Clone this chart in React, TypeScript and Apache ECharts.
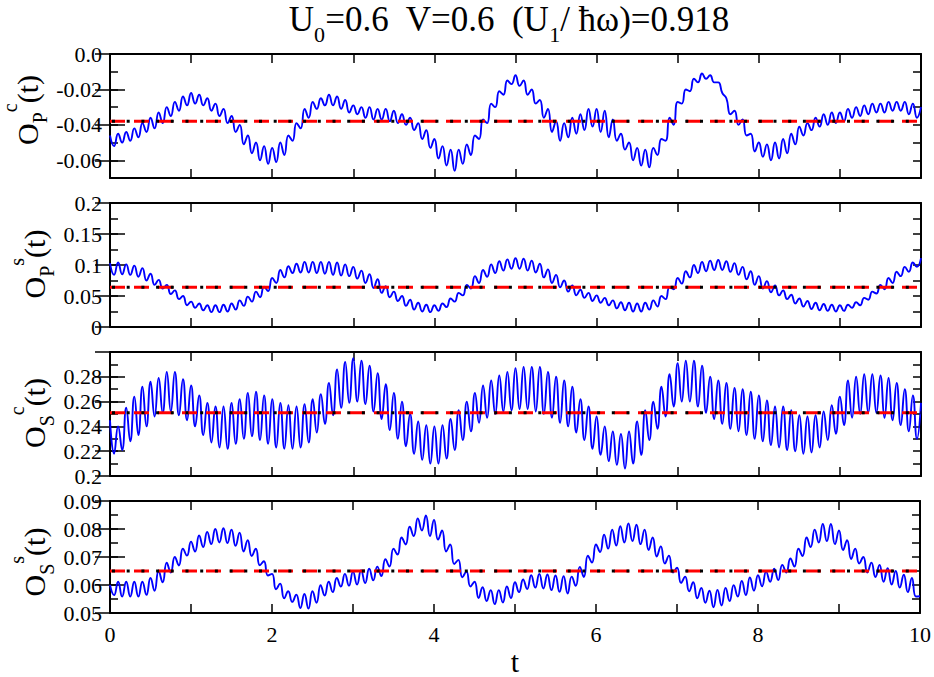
import React, { useEffect, useRef } from 'react';
import * as echarts from 'echarts';

const SERIF = 'Liberation Serif';

// time axis
const timeMin = 0;
const timeMax = 10;
const timeTickStep = 1;
const timeLabels = [0, 2, 4, 6, 8, 10];
const peakSpacing = 0.1; // local maxima every 0.1, minima half-way between

// O_P^c(t): local maxima (t = 0, 0.1, ..., 10) and minima (t = 0.05, 0.15, ..., 9.95)
const opcPeaks = [
  -0.046, -0.045, -0.044, -0.042, -0.039, -0.036, -0.033, -0.030, -0.027, -0.024,
  -0.022, -0.023, -0.025, -0.028, -0.031, -0.035, -0.040, -0.046, -0.050, -0.052,
  -0.053, -0.050, -0.046, -0.039, -0.031, -0.027, -0.025, -0.023, -0.024, -0.026,
  -0.029, -0.030, -0.030, -0.031, -0.031, -0.032, -0.034, -0.036, -0.039, -0.043,
  -0.048, -0.052, -0.054, -0.054, -0.051, -0.046, -0.037, -0.028, -0.021, -0.015,
  -0.012, -0.015, -0.020, -0.026, -0.031, -0.038, -0.039, -0.036, -0.034, -0.031,
  -0.031, -0.032, -0.037, -0.045, -0.050, -0.053, -0.054, -0.053, -0.048, -0.036,
  -0.027, -0.020, -0.014, -0.011, -0.012, -0.016, -0.025, -0.032, -0.037, -0.045,
  -0.050, -0.051, -0.050, -0.048, -0.045, -0.041, -0.039, -0.036, -0.034, -0.033,
  -0.033, -0.031, -0.030, -0.029, -0.028, -0.028, -0.027, -0.027, -0.027, -0.028,
  -0.030,
];
const opcTroughs = [
  -0.052, -0.050, -0.049, -0.047, -0.044, -0.042, -0.039, -0.035, -0.032, -0.029,
  -0.028, -0.029, -0.032, -0.035, -0.039, -0.044, -0.051, -0.056, -0.060, -0.062,
  -0.061, -0.057, -0.049, -0.042, -0.036, -0.031, -0.029, -0.029, -0.031, -0.033,
  -0.034, -0.036, -0.037, -0.037, -0.038, -0.039, -0.040, -0.043, -0.048, -0.053,
  -0.059, -0.063, -0.066, -0.062, -0.057, -0.048, -0.039, -0.030, -0.023, -0.017,
  -0.018, -0.023, -0.028, -0.036, -0.044, -0.049, -0.047, -0.045, -0.043, -0.041,
  -0.044, -0.047, -0.049, -0.054, -0.060, -0.063, -0.064, -0.057, -0.049, -0.040,
  -0.028, -0.021, -0.016, -0.014, -0.016, -0.022, -0.034, -0.040, -0.046, -0.055,
  -0.058, -0.060, -0.059, -0.056, -0.051, -0.046, -0.043, -0.041, -0.040, -0.039,
  -0.038, -0.036, -0.035, -0.034, -0.033, -0.033, -0.032, -0.032, -0.034, -0.036,
];

// O_P^s(t)
const opsPeaks = [
  0.103, 0.104, 0.101, 0.099, 0.095, 0.086, 0.076, 0.068, 0.059, 0.050,
  0.041, 0.038, 0.035, 0.035, 0.036, 0.038, 0.043, 0.049, 0.057, 0.065,
  0.079, 0.092, 0.098, 0.102, 0.105, 0.105, 0.105, 0.105, 0.104, 0.101,
  0.097, 0.091, 0.085, 0.077, 0.066, 0.057, 0.050, 0.044, 0.039, 0.036,
  0.035, 0.038, 0.046, 0.055, 0.068, 0.082, 0.092, 0.101, 0.106, 0.109,
  0.111, 0.110, 0.107, 0.102, 0.093, 0.084, 0.075, 0.067, 0.060, 0.055,
  0.051, 0.047, 0.043, 0.040, 0.039, 0.038, 0.039, 0.043, 0.050, 0.064,
  0.079, 0.090, 0.100, 0.105, 0.107, 0.108, 0.106, 0.103, 0.097, 0.090,
  0.082, 0.074, 0.067, 0.059, 0.052, 0.046, 0.042, 0.039, 0.037, 0.036,
  0.035, 0.036, 0.040, 0.047, 0.057, 0.068, 0.079, 0.089, 0.097, 0.104,
  0.111,
];
const opsTroughs = [
  0.084, 0.085, 0.084, 0.081, 0.075, 0.068, 0.062, 0.053, 0.045, 0.035,
  0.031, 0.027, 0.024, 0.024, 0.025, 0.028, 0.034, 0.041, 0.048, 0.058,
  0.071, 0.080, 0.087, 0.088, 0.088, 0.087, 0.086, 0.084, 0.083, 0.082,
  0.078, 0.071, 0.063, 0.055, 0.048, 0.042, 0.034, 0.028, 0.025, 0.024,
  0.026, 0.032, 0.041, 0.051, 0.062, 0.071, 0.081, 0.087, 0.091, 0.094,
  0.094, 0.091, 0.088, 0.080, 0.071, 0.064, 0.057, 0.051, 0.047, 0.042,
  0.039, 0.035, 0.030, 0.027, 0.025, 0.025, 0.028, 0.033, 0.045, 0.061,
  0.070, 0.080, 0.087, 0.090, 0.092, 0.092, 0.089, 0.084, 0.077, 0.068,
  0.062, 0.056, 0.051, 0.045, 0.038, 0.033, 0.029, 0.027, 0.026, 0.025,
  0.026, 0.031, 0.035, 0.044, 0.054, 0.061, 0.071, 0.082, 0.089, 0.097,
];

// O_S^c(t)
const oscPeaks = [
  0.245, 0.240, 0.255, 0.264, 0.272, 0.276, 0.279, 0.284, 0.284, 0.278,
  0.273, 0.265, 0.259, 0.256, 0.256, 0.259, 0.262, 0.267, 0.268, 0.265,
  0.262, 0.259, 0.257, 0.256, 0.258, 0.262, 0.266, 0.275, 0.286, 0.292,
  0.295, 0.293, 0.289, 0.283, 0.274, 0.267, 0.260, 0.250, 0.244, 0.241,
  0.240, 0.241, 0.246, 0.253, 0.260, 0.267, 0.273, 0.277, 0.281, 0.284,
  0.287, 0.288, 0.288, 0.288, 0.284, 0.280, 0.277, 0.272, 0.262, 0.256,
  0.248, 0.240, 0.236, 0.234, 0.236, 0.244, 0.253, 0.260, 0.272, 0.282,
  0.291, 0.293, 0.293, 0.289, 0.280, 0.277, 0.275, 0.271, 0.270, 0.268,
  0.265, 0.261, 0.256, 0.256, 0.253, 0.249, 0.248, 0.249, 0.252, 0.257,
  0.264, 0.277, 0.280, 0.282, 0.282, 0.281, 0.279, 0.275, 0.270, 0.265,
  0.259,
];
const oscTroughs = [
  0.218, 0.221, 0.228, 0.233, 0.240, 0.248, 0.251, 0.252, 0.249, 0.245,
  0.240, 0.233, 0.227, 0.223, 0.222, 0.226, 0.230, 0.232, 0.229, 0.226,
  0.223, 0.222, 0.222, 0.223, 0.227, 0.235, 0.242, 0.249, 0.255, 0.259,
  0.260, 0.258, 0.252, 0.246, 0.237, 0.230, 0.224, 0.218, 0.213, 0.210,
  0.210, 0.214, 0.221, 0.229, 0.236, 0.243, 0.247, 0.250, 0.252, 0.253,
  0.254, 0.254, 0.252, 0.250, 0.247, 0.243, 0.240, 0.235, 0.229, 0.222,
  0.217, 0.212, 0.209, 0.206, 0.210, 0.217, 0.229, 0.238, 0.248, 0.256,
  0.260, 0.260, 0.256, 0.251, 0.246, 0.242, 0.238, 0.236, 0.233, 0.230,
  0.228, 0.225, 0.223, 0.221, 0.220, 0.218, 0.219, 0.223, 0.229, 0.234,
  0.241, 0.247, 0.250, 0.251, 0.251, 0.247, 0.245, 0.241, 0.236, 0.230,
];

// O_S^s(t)
const ossPeaks = [
  0.0600, 0.0612, 0.0612, 0.0612, 0.0612, 0.0625, 0.0650, 0.0680, 0.0700, 0.0730,
  0.0755, 0.0777, 0.0790, 0.0800, 0.0803, 0.0798, 0.0787, 0.0760, 0.0730, 0.0685,
  0.0640, 0.0605, 0.0578, 0.0566, 0.0568, 0.0578, 0.0600, 0.0612, 0.0625, 0.0640,
  0.0648, 0.0653, 0.0658, 0.0666, 0.0692, 0.0730, 0.0770, 0.0808, 0.0838, 0.0848,
  0.0832, 0.0795, 0.0745, 0.0690, 0.0648, 0.0612, 0.0592, 0.0582, 0.0582, 0.0595,
  0.0610, 0.0620, 0.0635, 0.0640, 0.0638, 0.0634, 0.0632, 0.0630, 0.0665, 0.0705,
  0.0745, 0.0780, 0.0798, 0.0810, 0.0820, 0.0815, 0.0798, 0.0770, 0.0738, 0.0705,
  0.0662, 0.0630, 0.0610, 0.0590, 0.0580, 0.0583, 0.0590, 0.0600, 0.0615, 0.0627,
  0.0635, 0.0648, 0.0658, 0.0672, 0.0695, 0.0730, 0.0770, 0.0798, 0.0818, 0.0818,
  0.0795, 0.0760, 0.0730, 0.0700, 0.0680, 0.0672, 0.0660, 0.0650, 0.0637, 0.0625,
  0.0560,
];
const ossTroughs = [
  0.0564, 0.0559, 0.0559, 0.0559, 0.0565, 0.0580, 0.0610, 0.0645, 0.0670, 0.0705,
  0.0720, 0.0736, 0.0746, 0.0752, 0.0750, 0.0740, 0.0720, 0.0704, 0.0671, 0.0634,
  0.0585, 0.0553, 0.0540, 0.0518, 0.0516, 0.0537, 0.0563, 0.0575, 0.0595, 0.0598,
  0.0602, 0.0607, 0.0617, 0.0632, 0.0666, 0.0709, 0.0745, 0.0775, 0.0795, 0.0775,
  0.0762, 0.0720, 0.0675, 0.0628, 0.0595, 0.0554, 0.0543, 0.0532, 0.0538, 0.0554,
  0.0575, 0.0586, 0.0591, 0.0588, 0.0582, 0.0576, 0.0570, 0.0597, 0.0629, 0.0680,
  0.0718, 0.0730, 0.0741, 0.0752, 0.0757, 0.0746, 0.0725, 0.0702, 0.0677, 0.0645,
  0.0608, 0.0578, 0.0553, 0.0537, 0.0521, 0.0527, 0.0543, 0.0559, 0.0564, 0.0580,
  0.0596, 0.0612, 0.0618, 0.0645, 0.0666, 0.0704, 0.0736, 0.0752, 0.0757, 0.0746,
  0.0725, 0.0693, 0.0677, 0.0645, 0.0629, 0.0612, 0.0602, 0.0591, 0.0575, 0.0559,
];

// time-averaged values (dashed red / dotted black lines)
const panelMeans = [-0.038, 0.064, 0.251, 0.065];

// y axes
const panelMins = [-0.07, 0, 0.2, 0.05];
const panelMaxs = [0, 0.2, 0.3, 0.09];
const panelMinorSteps = [0.01, 0.025, 0.01, 0.005];
const panelMajorValues = [
  [-0.06, -0.04, -0.02, 0],
  [0, 0.05, 0.1, 0.15, 0.2],
  [0.2, 0.22, 0.24, 0.26, 0.28, 0.3],
  [0.05, 0.06, 0.07, 0.08, 0.09],
];
const panelLabelValues = [
  [-0.06, -0.04, -0.02, 0],
  [0, 0.05, 0.1, 0.15, 0.2],
  [0.2, 0.22, 0.24, 0.26, 0.28],
  [0.05, 0.06, 0.07, 0.08, 0.09],
];
const panelLabelTexts = [
  ['-0.06', '-0.04', '-0.02', '0.0'],
  ['0', '0.05', '0.1', '0.15', '0.2'],
  ['0.2', '0.22', '0.24', '0.26', '0.28'],
  ['0.05', '0.06', '0.07', '0.08', '0.09'],
];
const panelSubs = ['P', 'P', 'S', 'S'];
const panelSups = ['c', 's', 'c', 's'];
const panelPeaks = [opcPeaks, opsPeaks, oscPeaks, ossPeaks];
const panelTroughs = [opcTroughs, opsTroughs, oscTroughs, ossTroughs];

// layout
const panelTops = [54, 203, 352, 501];
const panelHeight = 124;
const titleX = [0, 7, 7, 7];
const titleY = [110, 264, 413, 562];

function buildCurve(peaks: number[], troughs: number[]) {
  const pts: number[][] = [];
  peaks.forEach((p, i) => {
    pts.push([+(i * peakSpacing).toFixed(3), p]);
    if (i < troughs.length) pts.push([+((i + 0.5) * peakSpacing).toFixed(3), troughs[i]]);
  });
  return pts;
}

export default function App() {
  const ref = useRef<HTMLDivElement>(null);
  useEffect(() => {
    if (!ref.current) return;
    const chart = echarts.init(ref.current, null, { renderer: 'svg' });
    const grid: any[] = [];
    const xAxis: any[] = [];
    const yAxis: any[] = [];
    const series: any[] = [];
    const graphic: any[] = [];
    const axisLine = { show: true, onZero: false, lineStyle: { color: '#000', width: 2 } };
    const labelStyle = { fontFamily: SERIF, fontSize: 22, color: '#000' };

    for (let i = 0; i < 4; i++) {
      grid.push({ left: 110, right: 13, top: panelTops[i], height: panelHeight, show: false });
      const isBottom = i === 3;
      const xBase = {
        type: 'value', gridIndex: i, min: timeMin, max: timeMax, interval: timeTickStep,
        axisLine,
        axisTick: { show: true, inside: true, length: 9, lineStyle: { color: '#000', width: 1.5 } },
        splitLine: { show: false },
      };
      xAxis.push({
        ...xBase, position: 'bottom',
        axisLabel: isBottom ? {
          show: true, margin: 10, ...labelStyle,
          formatter: (v: number) => {
            const k = Math.round(v);
            return Math.abs(v - k) < 1e-6 && timeLabels.includes(k) ? String(k) : '';
          },
        } : { show: false },
        name: isBottom ? 't' : '', nameLocation: 'middle', nameGap: 20,
        nameTextStyle: { fontFamily: SERIF, fontSize: 30, color: '#000' },
      });
      xAxis.push({ ...xBase, position: 'top', axisLabel: { show: false } });

      const step = panelMinorSteps[i];
      const yBase = {
        type: 'value', gridIndex: i, min: panelMins[i], max: panelMaxs[i],
        splitLine: { show: false },
      };
      const fmt = (v: number) => {
        const idx = panelLabelValues[i].findIndex((lv) => Math.abs(lv - v) < step / 10);
        return idx >= 0 ? panelLabelTexts[i][idx] : '';
      };
      yAxis.push({
        ...yBase, position: 'left', interval: step, axisLine,
        axisTick: { show: true, inside: true, length: 8, lineStyle: { color: '#000', width: 1.5 } },
        axisLabel: { show: true, margin: 8, ...labelStyle, formatter: fmt, showMinLabel: true, showMaxLabel: true },
      });
      yAxis.push({
        ...yBase, position: 'left', axisLine: { show: false },
        axisTick: { show: true, inside: true, length: 15, customValues: panelMajorValues[i], lineStyle: { color: '#000', width: 1.5 } },
        axisLabel: { show: false },
      });
      yAxis.push({
        ...yBase, position: 'right', interval: step, axisLine,
        axisTick: { show: true, inside: true, length: 8, lineStyle: { color: '#000', width: 1.5 } },
        axisLabel: { show: false },
      });
      yAxis.push({
        ...yBase, position: 'right', axisLine: { show: false },
        axisTick: { show: true, inside: true, length: 15, customValues: panelMajorValues[i], lineStyle: { color: '#000', width: 1.5 } },
        axisLabel: { show: false },
      });

      series.push({
        type: 'line', xAxisIndex: 2 * i, yAxisIndex: 4 * i,
        data: buildCurve(panelPeaks[i], panelTroughs[i]),
        smooth: 0.5, showSymbol: false, z: 2,
        lineStyle: { color: '#0000ff', width: 1.9 },
      });
      series.push({
        type: 'line', xAxisIndex: 2 * i, yAxisIndex: 4 * i,
        data: [[timeMin, panelMeans[i]], [timeMax, panelMeans[i]]],
        showSymbol: false, z: 3,
        lineStyle: { color: '#ff0000', width: 3, type: [15, 9] },
      });
      series.push({
        type: 'line', xAxisIndex: 2 * i, yAxisIndex: 4 * i,
        data: [[timeMin, panelMeans[i]], [timeMax, panelMeans[i]]],
        showSymbol: false, z: 4,
        lineStyle: { color: '#000', width: 3, type: [3, 11.7], dashOffset: -2 },
      });

      graphic.push({
        type: 'text', x: titleX[i], y: titleY[i], rotation: Math.PI / 2,
        style: {
          text: `{m|O}{b|${panelSubs[i]}}{p|${panelSups[i]}}{m|(t)}`,
          align: 'center', verticalAlign: 'top', fill: '#000',
          fontFamily: SERIF,
          rich: {
            m: { fontFamily: SERIF, fontSize: 30, verticalAlign: 'top', padding: [12, 0, 0, 0], fill: '#000' },
            b: { fontFamily: SERIF, fontSize: 20, verticalAlign: 'top', padding: [30, 0, 0, 0], fill: '#000' },
            p: { fontFamily: SERIF, fontSize: 20, verticalAlign: 'top', padding: [0, 0, 0, 0], fill: '#000' },
          },
        },
      });
    }

    graphic.push({
      type: 'text', x: 509, y: 2,
      style: {
        text: '{m|U}{s|0}{m|=0.6  V=0.6  (U}{s|1}{m|/ ħω)=0.918}',
        align: 'center', verticalAlign: 'top', fill: '#000',
        fontFamily: SERIF,
        rich: {
          m: { fontFamily: SERIF, fontSize: 35, verticalAlign: 'top', padding: [0, 0, 0, 0], fill: '#000' },
          s: { fontFamily: SERIF, fontSize: 22, verticalAlign: 'top', padding: [21, 0, 0, 0], fill: '#000' },
        },
      },
    });

    chart.setOption({
      animation: false,
      backgroundColor: '#fff',
      textStyle: { fontFamily: SERIF },
      grid, xAxis, yAxis, series, graphic,
    });
    return () => chart.dispose();
  }, []);
  return (
    <div
      ref={ref}
      style={{ position: 'fixed', left: 0, top: 0, width: 934, height: 677, background: '#fff' }}
    />
  );
}
